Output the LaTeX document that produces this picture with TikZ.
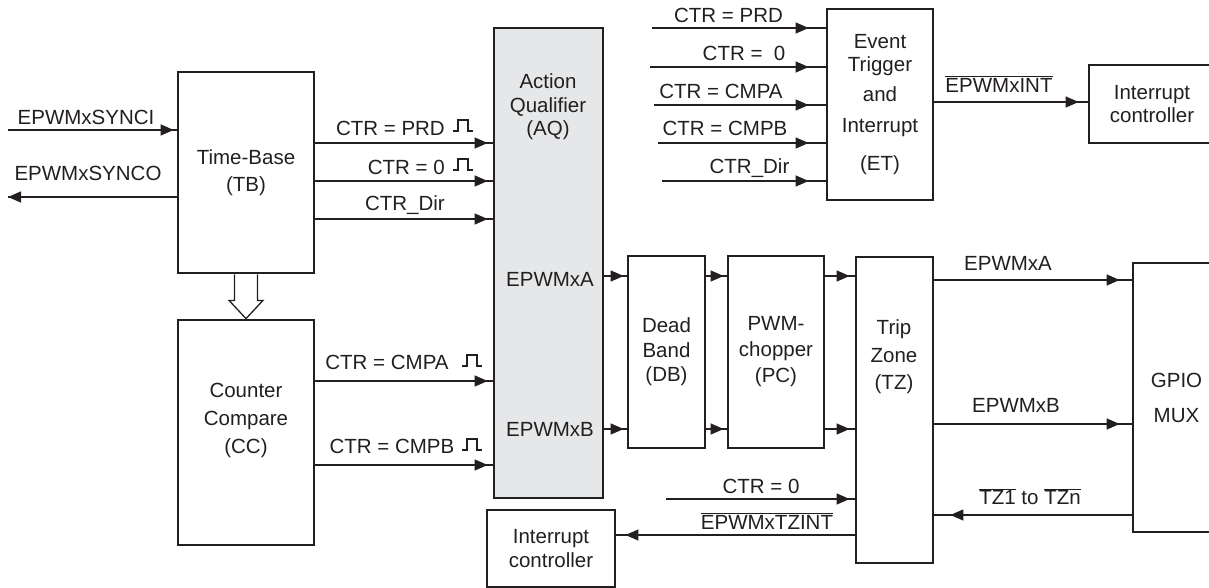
\documentclass[tikz,border=0pt]{standalone}
\usepackage{fontspec}
\setmainfont{Liberation Sans}
\usetikzlibrary{arrows.meta, positioning, calc}
\definecolor{traco}{RGB}{35, 31, 32}
\definecolor{cinzaAQ}{RGB}{230, 231, 232}
\tikzset{
  bloco/.style={
    draw=traco, line width=2.8pt, align=center, inner sep=0pt,
    font=\fontsize{20.5}{23.5}\selectfont, text=traco
  },
  rotulo/.style={align=center, inner sep=0pt, font=\fontsize{20.5}{23.5}\selectfont, text=traco},
  seta/.style={
    draw=traco, line width=1.3pt,
    postaction={draw=traco, -{Triangle[length=13pt,width=11pt]}, shorten >=#1}
  },
  seta/.default=5pt,
  oca/.style={draw=traco, line width=1.3pt, fill=white},
  pulso/.pic={\draw[traco, line width=1.1pt] (-10,0) -- (-5,0) -- (-5,-11) -- (5,-11) -- (5,0) -- (10,0);}
}

\begin{document}
\begin{tikzpicture}[x=1pt, y=-1pt]

\useasboundingbox (0,0) rectangle (1209,588);

% blocos
\node[bloco, minimum width=136pt, minimum height=201pt] (tb) at (246,172.5)
{Time-Base\\[3.5pt](TB)};

\node[bloco, minimum width=136pt, minimum height=225pt] (cc) at (246,432.5) {};
\node[rotulo] (cctxt) at (246,420) {Counter\\[4.5pt]Compare\\[4.5pt](CC)};

\node[bloco, fill=cinzaAQ, minimum width=109pt, minimum height=470pt] (aq) at (548.5,263) {};
\node[rotulo] (aqtxt) at (548,107) {Action\\Qualifier\\(AQ)};
\node[rotulo] (aqA) at (550,279) {EPWMxA};
\node[rotulo] (aqB) at (550,429) {EPWMxB};

\node[bloco, minimum width=77pt, minimum height=192pt] (db) at (666.5,352)
{Dead\\[1pt]Band\\[1pt](DB)};

\node[bloco, minimum width=96pt, minimum height=192pt] (pc) at (776,352)
{PWM-\\[2.5pt]chopper\\[2.5pt](PC)};

\node[bloco, minimum width=77pt, minimum height=306pt] (tz) at (894.5,410) {};
\node[rotulo] (tztxt) at (894,357) {Trip\\[4pt]Zone\\[4pt](TZ)};

\node[bloco, minimum width=87pt, minimum height=269pt] (gpio) at (1176.5,397.5)
{GPIO\\[11.5pt]MUX};

\node[bloco, minimum width=106pt, minimum height=191pt] (et) at (880,104.5)
{Event\\Trigger\\[6pt]and\\[8pt]Interrupt\\[14pt](ET)};

\node[bloco, minimum width=126pt, minimum height=78pt] (intA) at (1152,104)
{Interrupt\\controller};

\node[bloco, minimum width=128pt, minimum height=77pt] (intB) at (551,548.5)
{Interrupt\\controller};

% seta oca TB -> CC
\draw[oca] ([xshift=-11.5pt]tb.south) -- ++(0,26) -- ++(-5.5,0) -- (cc.north)
  -- ++(17,-18.2) -- ++(-5.5,0) -- ([xshift=11.5pt]tb.south);

% sincronismo
\coordinate (synci) at (8,130);
\coordinate (synco) at (8,197);
\node[rotulo] (lsynci) at (86,117) {EPWMxSYNCI};
\node[rotulo] (lsynco) at (88,173) {EPWMxSYNCO};
\draw[seta=3pt] (synci) -- (synci -| tb.west);
\draw[seta=0pt] (tb.west |- synco) -- (synco);

% TB -> AQ
\node[rotulo, anchor=east] (lprd) at (445,128) {CTR = PRD};
\node[rotulo, anchor=east] (lzero) at (445,167) {CTR = 0};
\node[rotulo, anchor=east] (ldir) at (445,205) {CTR\_Dir};
\pic at (463,131) {pulso};
\pic at (463,170) {pulso};
\draw[seta] (tb.east |- 0,143) -- (aq.west |- 0,143);
\draw[seta] (tb.east |- 0,181) -- (aq.west |- 0,181);
\draw[seta] (tb.east |- 0,219) -- (aq.west |- 0,219);

% CC -> AQ
\node[rotulo] (lcmpa) at (387,362) {CTR = CMPA};
\node[rotulo] (lcmpb) at (392,446) {CTR = CMPB};
\pic at (472,366) {pulso};
\pic at (472,450) {pulso};
\draw[seta] (cc.east |- 0,381) -- (aq.west |- 0,381);
\draw[seta] (cc.east |- 0,465) -- (aq.west |- 0,465);

% AQ -> DB -> PC -> TZ
\draw[seta=3pt] (aq.east |- 0,276) -- (db.west |- 0,276);
\draw[seta=3pt] (aq.east |- 0,429) -- (db.west |- 0,429);
\draw[seta=3pt] (db.east |- 0,276) -- (pc.west |- 0,276);
\draw[seta=3pt] (db.east |- 0,429) -- (pc.west |- 0,429);
\draw[seta] (pc.east |- 0,276) -- (tz.west |- 0,276);
\draw[seta] (pc.east |- 0,429) -- (tz.west |- 0,429);

% TZ <-> GPIO
\node[rotulo] (lA) at (1008,263) {EPWMxA};
\node[rotulo] (lB) at (1016,405) {EPWMxB};
\node[rotulo] (ltz) at (1030,497) {$\overline{\mbox{TZ1}}$ to $\overline{\mbox{TZn}}$};
\draw[seta=12pt] (tz.east |- 0,280) -- (gpio.west |- 0,280);
\draw[seta=12pt] (tz.east |- 0,424) -- (gpio.west |- 0,424);
\draw[seta=16pt] (gpio.west |- 0,515) -- (tz.east |- 0,515);

% TZ -> interrupcao
\coordinate (ctrzero) at (666,499);
\node[rotulo] (ltzzero) at (761,486) {CTR = 0};
\node[rotulo] (ltzint) at (767,521) {$\overline{\mbox{EPWMxTZINT}}$};
\draw[seta] (ctrzero) -- (ctrzero -| tz.west);
\draw[seta=9pt] (tz.west |- 0,535) -- (intB.east |- 0,535);

% entradas do ET
\coordinate (etprd) at (652,28);
\coordinate (etzero) at (650,67);
\coordinate (etcmpa) at (654,105);
\coordinate (etcmpb) at (658,143);
\coordinate (etdir) at (662,181);
\node[rotulo] (leprd) at (728.5,15) {CTR = PRD};
\node[rotulo] (lezero) at (744,53) {CTR = \ 0};
\node[rotulo] (lecmpa) at (721,91) {CTR = CMPA};
\node[rotulo] (lecmpb) at (725,128) {CTR = CMPB};
\node[rotulo] (ledir) at (749.5,168) {CTR\_Dir};
\draw[seta=17pt] (etprd) -- (etprd -| et.west);
\draw[seta=17pt] (etzero) -- (etzero -| et.west);
\draw[seta=17pt] (etcmpa) -- (etcmpa -| et.west);
\draw[seta=17pt] (etcmpb) -- (etcmpb -| et.west);
\draw[seta=17pt] (etdir) -- (etdir -| et.west);

% ET -> interrupcao
\node[rotulo] (lint) at (999,84) {$\overline{\mbox{EPWMxINT}}$};
\draw[seta=9pt] (et.east |- 0,102) -- (intA.west |- 0,102);

\end{tikzpicture}
\end{document}
